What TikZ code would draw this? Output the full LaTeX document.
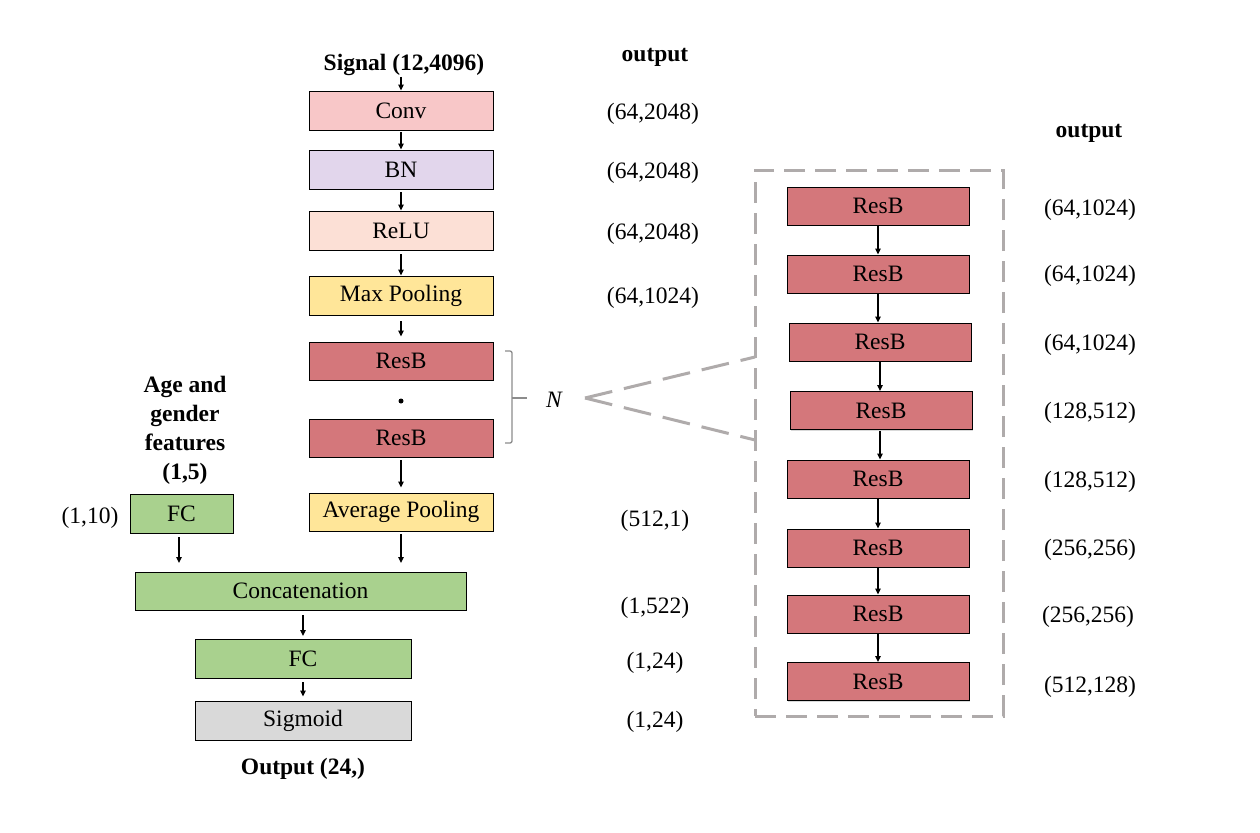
\documentclass[tikz,border=0pt]{standalone}
\usepackage{fontspec}
\setmainfont{Liberation Serif}
\usetikzlibrary{arrows.meta,shadows}
\definecolor{convc}{HTML}{F8C7C8}
\definecolor{bnc}{HTML}{E2D6EC}
\definecolor{reluc}{HTML}{FCE0D6}
\definecolor{poolc}{HTML}{FFE699}
\definecolor{resc}{HTML}{D4777B}
\definecolor{fcc}{HTML}{A9D18E}
\definecolor{sigc}{HTML}{D9D9D9}
\definecolor{dashc}{HTML}{AFABAB}
\definecolor{bracec}{HTML}{8C8C8C}
\begin{document}
\begin{tikzpicture}[x=1pt,y=-1pt,
  blk/.style={draw=black,line width=0.9pt,minimum height=39pt,inner sep=0pt,
    font=\fontsize{23.5}{28}\selectfont,
    drop shadow={shadow xshift=1.3pt,shadow yshift=-1.3pt,opacity=0.3}},
  lbl/.style={font=\fontsize{23.5}{28}\selectfont,inner sep=0pt,yshift=-2pt},
  bld/.style={font=\fontsize{23.5}{28}\selectfont\bfseries,inner sep=0pt,yshift=-2pt},
  arr/.style={-{Triangle[length=6pt,width=5.5pt]},line width=1.3pt},
  dl/.style={draw=dashc,line width=3pt,dash pattern=on 21pt off 10pt},
  ]
\useasboundingbox (0,0) rectangle (1260,832);
% left main column
\node[bld] (sig) at (404,63) {Signal (12,4096)};
\node[blk,fill=convc,minimum width=184pt] (conv) at (401,110.5) {Conv};
\node[blk,fill=bnc,minimum width=184pt] (bn) at (401,169.5) {BN};
\node[blk,fill=reluc,minimum width=184pt] (relu) at (401,230.5) {ReLU};
\node[blk,fill=poolc,minimum width=184pt] (mp) at (401,295.5) {Max Pooling};
\node[blk,fill=resc,minimum width=184pt,minimum height=38pt] (r1) at (401,361) {ResB};
\node[circle,fill=black,inner sep=0pt,minimum size=5pt] (dot) at (401,401) {};
\node[blk,fill=resc,minimum width=184pt,minimum height=38pt] (r2) at (401,438) {ResB};
\node[blk,fill=poolc,minimum width=184pt,minimum height=38pt] (ap) at (401,512) {Average Pooling};
% left branch
\node[bld,align=center,font=\fontsize{23.5}{29}\selectfont\bfseries] (age) at (185,428) {Age and\\gender\\features\\(1,5)};
\node[blk,fill=fcc,minimum width=103pt] (fc1) at (181.5,513.5) {FC};
\node[lbl] (o110) at (90,516) {(1,10)};
\node[blk,fill=fcc,minimum width=331pt,minimum height=38pt] (cat) at (300.5,591) {Concatenation};
\node[blk,fill=fcc,minimum width=216pt] (fc2) at (303,658.5) {FC};
\node[blk,fill=sigc,minimum width=216pt] (sgm) at (303,720.5) {Sigmoid};
\node[bld] (out) at (303,767) {Output (24,)};
% arrows left
\draw[arr] (conv.north |- sig.south) ++(0,1) -- (conv.north);
\draw[arr] (conv.south) ++(0,2) -- (bn.north);
\draw[arr] (bn.south) ++(0,3) -- (relu.north);
\draw[arr] (relu.south) ++(0,4) -- (mp.north);
\draw[arr] (mp.south) ++(0,6) -- ([yshift=5pt]r1.north);
\draw[arr] (r2.south) ++(0,3) -- ([yshift=5pt]ap.north);
\coordinate (c1) at (179,563);
\coordinate (c2) at (401,563);
\coordinate (c3) at (303,636);
\draw[arr] (fc1.south -| c1) ++(0,4) -- (c1);
\draw[arr] (ap.south) ++(0,3) -- (c2);
\draw[arr] (cat.south -| c3) ++(0,5) -- (c3);
\draw[arr] (fc2.south) ++(0,4) -- ([yshift=4pt]sgm.north);
% output labels left
\node[bld] (outh1) at (655,55) {output};
\node[lbl] (l1) at (653,112) {(64,2048)};
\node[lbl] (l2) at (653,171) {(64,2048)};
\node[lbl] (l3) at (653,232) {(64,2048)};
\node[lbl] (l4) at (653,296) {(64,1024)};
\node[lbl] (l5) at (655,519) {(512,1)};
\node[lbl] (l6) at (655,606) {(1,522)};
\node[lbl] (l7) at (655,661) {(1,24)};
\node[lbl] (l8) at (655,720) {(1,24)};
% brace and N
\draw[draw=bracec,line width=1.3pt,rounded corners=2pt] (505,351) -- (512,351) -- (512,443) -- (505,443);
\draw[draw=bracec,line width=1.3pt] (512,398) -- (527,398);
\node[lbl,font=\fontsize{23.5}{28}\selectfont\itshape] (N) at (554,398) {N};
% dashed group
\node[dl,minimum width=248pt,minimum height=546pt,inner sep=0pt] (grp) at (879,443) {};
\coordinate (nt) at (585,398);
\coordinate (gu) at (755,357);
\coordinate (gd) at (755,440);
\draw[dl,dash pattern=on 28pt off 12pt] (nt) -- (gu);
\draw[dl,dash pattern=on 28pt off 12pt] (nt) -- (gd);
% right column
\node[blk,fill=resc,minimum width=182pt,minimum height=38pt] (b1) at (878,206) {ResB};
\node[blk,fill=resc,minimum width=182pt,minimum height=38pt] (b2) at (878,274) {ResB};
\node[blk,fill=resc,minimum width=182pt,minimum height=38pt] (b3) at (880,342) {ResB};
\node[blk,fill=resc,minimum width=182pt,minimum height=38pt] (b4) at (881,410.5) {ResB};
\node[blk,fill=resc,minimum width=182pt,minimum height=38pt] (b5) at (878,479) {ResB};
\node[blk,fill=resc,minimum width=182pt,minimum height=38pt] (b6) at (878,548) {ResB};
\node[blk,fill=resc,minimum width=182pt,minimum height=38pt] (b7) at (878,614) {ResB};
\node[blk,fill=resc,minimum width=182pt,minimum height=38pt] (b8) at (878,681.5) {ResB};
\draw[arr] (b1.south) ++(0,1) -- (b1.south |- b2.north);
\draw[arr] (b2.south) ++(0,1) -- (b2.south |- b3.north);
\draw[arr] (b3.south) ++(0,1) -- (b3.south |- b4.north);
\draw[arr] (b4.south -| b3.south) ++(0,1) -- (b3.south |- b5.north);
\draw[arr] (b5.south) ++(0,1) -- (b5.south |- b6.north);
\draw[arr] (b6.south) ++(0,1) -- (b6.south |- b7.north);
\draw[arr] (b7.south) ++(0,1) -- (b7.south |- b8.north);
\node[bld] (outh2) at (1089,131) {output};
\node[lbl] (m1) at (1090,208) {(64,1024)};
\node[lbl] (m2) at (1090,274) {(64,1024)};
\node[lbl] (m3) at (1090,343) {(64,1024)};
\node[lbl] (m4) at (1090,411) {(128,512)};
\node[lbl] (m5) at (1090,480) {(128,512)};
\node[lbl] (m6) at (1090,548) {(256,256)};
\node[lbl] (m7) at (1088,615) {(256,256)};
\node[lbl] (m8) at (1090,685) {(512,128)};
\end{tikzpicture}
\end{document}
